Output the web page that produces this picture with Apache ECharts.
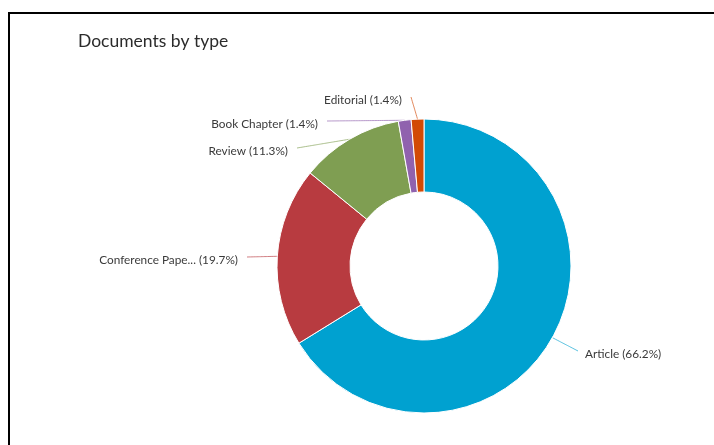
<!DOCTYPE html>
<html>
<head>
<meta charset="utf-8">
<script src="https://cdn.jsdelivr.net/npm/echarts@6/dist/echarts.min.js"></script>
<style>
html,body{margin:0;padding:0;background:#fff;}
#c{width:714px;height:445px;}
</style>
</head>
<body>
<div id="c"></div>
<script>
const categories = ['Article', 'Conference Pape...', 'Review', 'Book Chapter', 'Editorial'];
const percents = [66.2, 19.7, 11.3, 1.4, 1.4];
const colors = ['#00a1d0', '#b83b40', '#7f9e52', '#9062ae', '#d24a06'];

// label placement (text anchor x, y, alignment) per slice
const labelPlacement = [
  [585, 354, 'left'],
  [238, 260, 'right'],
  [288, 151, 'right'],
  [318, 124, 'right'],
  [402, 100, 'right']
];

const chart = echarts.init(document.getElementById('c'));
chart.setOption({
  animation: false,
  title: {
    text: 'Documents by type',
    left: 78,
    top: 32,
    padding: 0,
    textStyle: { fontFamily: 'Lato', fontSize: 17.5, fontWeight: 'normal', color: '#2b2b2b' }
  },
  graphic: [{
    type: 'rect',
    shape: { x: 9, y: 13, width: 740, height: 470 },
    style: { fill: 'none', stroke: '#000', lineWidth: 2 },
    silent: true
  }],
  series: [{
    type: 'pie',
    center: [424, 266],
    radius: [74, 147],
    startAngle: 90,
    clockwise: true,
    itemStyle: { borderColor: '#fff', borderWidth: 1 },
    label: {
      show: true,
      formatter: p => p.name + ' (' + p.value.toFixed(1) + '%)',
      fontFamily: 'Lato',
      fontSize: 11.8,
      color: '#3a3a3a'
    },
    labelLine: { show: true, length: 20, length2: 10, smooth: 0.3, lineStyle: { width: 1, opacity: 0.65 } },
    labelLayout: p => {
      const lp = labelPlacement[p.dataIndex];
      const start = p.labelLinePoints ? p.labelLinePoints[0] : null;
      const endX = lp[2] === 'left' ? lp[0] - 7 : lp[0] + 9;
      const end = [endX, lp[1] - 3];
      const res = { x: lp[0], y: lp[1], align: lp[2], verticalAlign: 'middle' };
      if (start) res.labelLinePoints = [start, [(start[0] + end[0]) / 2, (start[1] + end[1]) / 2], end];
      return res;
    },
    data: categories.map((c, i) => ({ name: c, value: percents[i], itemStyle: { color: colors[i] } }))
  }]
});
</script>
</body>
</html>
